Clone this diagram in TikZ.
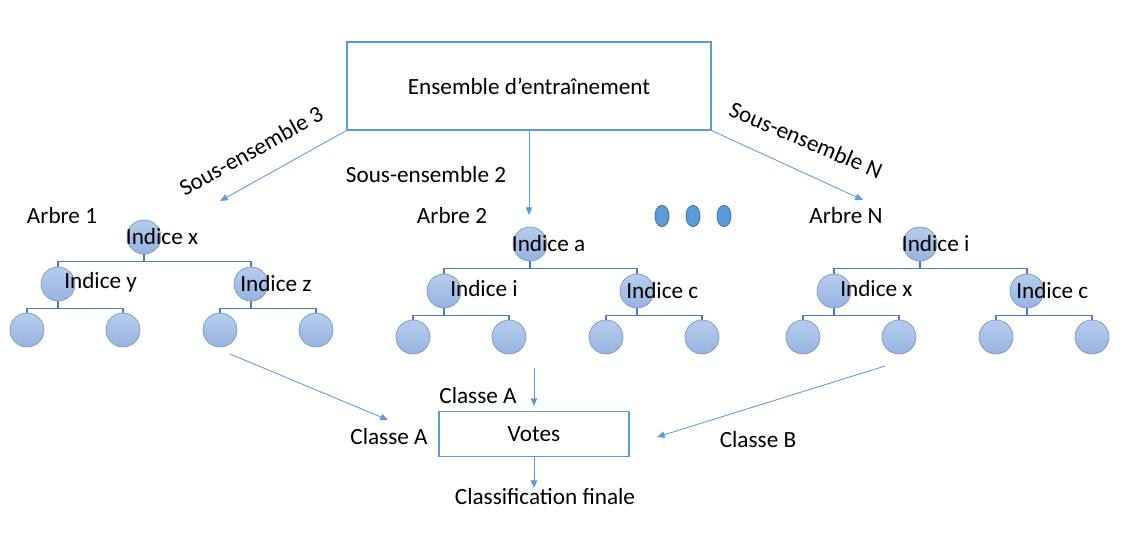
\documentclass[tikz,border=0pt]{standalone}
\usepackage{fontspec}
\setmainfont{Carlito}
\usetikzlibrary{positioning,calc,arrows.meta,shapes.geometric}
\definecolor{frameline}{HTML}{5B9BD5}
\definecolor{arrowline}{HTML}{5B9BD5}
\definecolor{treeline}{HTML}{4A7EBB}
\definecolor{knottop}{HTML}{B6CDEC}
\definecolor{knotbottom}{HTML}{96B4E0}
\definecolor{knotline}{HTML}{7F98BE}
\definecolor{dotfill}{HTML}{5B9BD5}
\definecolor{dotline}{HTML}{41719C}

\tikzset{
  txt/.style={font=\fontsize{16.5}{20}\selectfont,inner sep=0pt},
  framebox/.style={draw=frameline,line width=0.8pt,rectangle,txt},
  knot/.style={circle,minimum size=0.85cm,inner sep=0pt,top color=knottop,bottom color=knotbottom,draw=knotline,line width=0.5pt},
  dotmark/.style={ellipse,minimum width=0.35cm,minimum height=0.53cm,inner sep=0pt,fill=dotfill,draw=dotline,line width=0.6pt},
  tie/.style={draw=treeline,line width=0.9pt},
  feed/.style={draw=arrowline,line width=0.6pt,-{Triangle[length=5.5pt,width=4.5pt]}}
}

\newcommand{\branch}[2]{\draw[tie] (#1.south) -- ++(0,7) -| (#2.north);}

\begin{document}
\begin{tikzpicture}[x=0.025cm,y=-0.025cm]
    \useasboundingbox (0,0) rectangle (1134,559);

    % Training set on top
    \node[framebox,minimum width=9.1cm,minimum height=2.2cm] (train) at (529,86) {Ensemble d’entraînement};

    % Subset labels
    \node[txt,rotate=29] (sub3) at (251,151) {Sous-ensemble 3};
    \node[txt] (sub2) at (426,175) {Sous-ensemble 2};
    \node[txt,rotate=-23] (subN) at (806,140) {Sous-ensemble N};

    % Arrow ends
    \coordinate (in1) at (220,201);
    \coordinate (in2) at (529,215);
    \coordinate (inN) at (863,200);
    \draw[feed] (train.south west) -- (in1);
    \draw[feed] (train.south) -- (in2);
    \draw[feed] (train.south east) -- (inN);

    % Tree titles
    \node[txt] (title1) at (62,216) {Arbre 1};
    \node[txt] (title2) at (452,216) {Arbre 2};
    \node[txt] (titleN) at (846,216) {Arbre N};

    % The dots
    \node[dotmark] (dot1) at (662,216) {};
    \node[dotmark] (dot2) at (693,216) {};
    \node[dotmark] (dot3) at (724,216) {};

    % Trees
    \foreach \t/\rx/\ry/\rl/\al/\bl in {1/144/237/Indice x/Indice y/Indice z,2/530/244/Indice a/Indice i/Indice c,N/920/244/Indice i/Indice x/Indice c}{
        \node[knot] (r\t) at (\rx,\ry) {};
        \node[knot] (a\t) at ($(r\t)+(-86,47)$) {};
        \node[knot] (b\t) at ($(r\t)+(107,47)$) {};
        \node[knot] (aa\t) at ($(a\t)+(-31,46)$) {};
        \node[knot] (ab\t) at ($(a\t)+(65,46)$) {};
        \node[knot] (ba\t) at ($(b\t)+(-31,46)$) {};
        \node[knot] (bb\t) at ($(b\t)+(65,46)$) {};
        \branch{r\t}{a\t}
        \branch{r\t}{b\t}
        \branch{a\t}{aa\t}
        \branch{a\t}{ab\t}
        \branch{b\t}{ba\t}
        \branch{b\t}{bb\t}
        \node[txt,anchor=west] (rl\t) at ($(r\t.west)+(-1,0)$) {\rl};
        \node[txt,anchor=west] (al\t) at ($(a\t)+(6,-2)$) {\al};
        \node[txt,anchor=west] (bl\t) at ($(b\t)+(-11,0)$) {\bl};
    }

    % Votes
    \node[framebox,minimum width=4.75cm,minimum height=1.125cm] (votes) at (534,434) {Votes};
    \node[txt] (final) at (545,497) {Classification finale};
    \node[txt] (cl1) at (389,437) {Classe A};
    \node[txt] (cl2) at (478,396) {Classe A};
    \node[txt] (clN) at (758,440) {Classe B};

    \coordinate (out1) at (230,354);
    \coordinate (vote1) at (388,420);
    \coordinate (out2) at (534,368);
    \coordinate (vote2) at (534,406);
    \coordinate (outN) at (885,366);
    \coordinate (voteN) at (657,437);
    \coordinate (res) at (534,488);
    \draw[feed] (out1) -- (vote1);
    \draw[feed] (out2) -- (vote2);
    \draw[feed] (outN) -- (voteN);
    \draw[feed] (votes.south) -- (res);
\end{tikzpicture}
\end{document}
